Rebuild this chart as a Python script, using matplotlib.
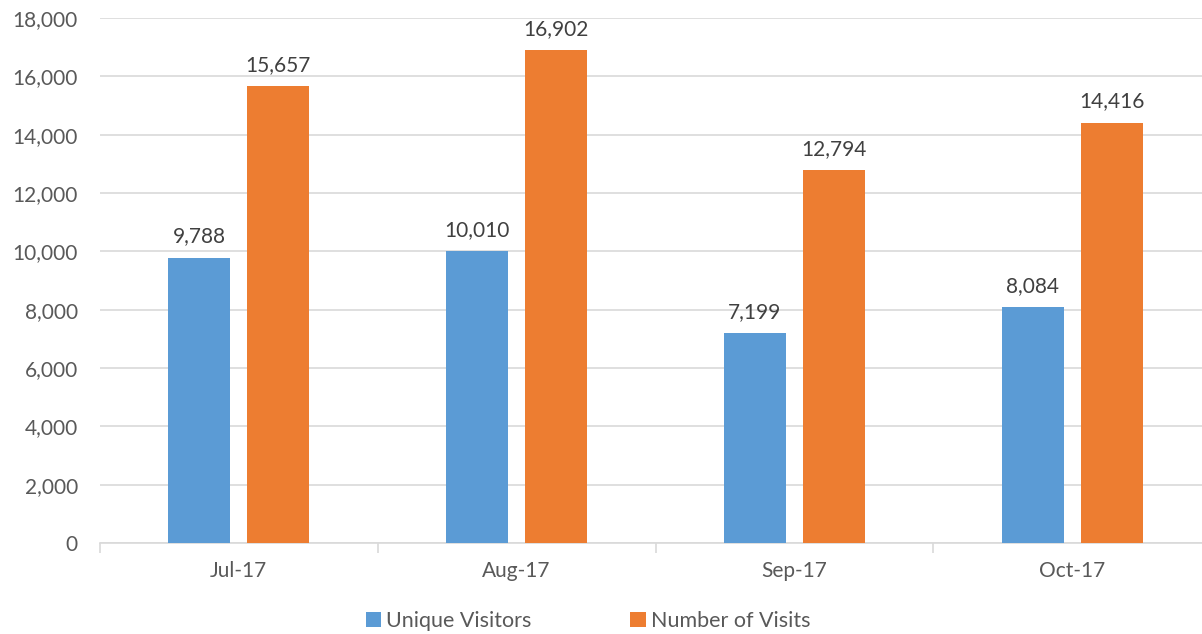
import matplotlib
matplotlib.use("Agg")
import matplotlib.pyplot as plt
import numpy as np
from matplotlib.ticker import FuncFormatter, FixedLocator

categories = ["Jul-17", "Aug-17", "Sep-17", "Oct-17"]
unique_visitors = [9788, 10010, 7199, 8084]
number_of_visits = [15657, 16902, 12794, 14416]
series_names = ["Unique Visitors", "Number of Visits"]

plt.rcParams['font.family'] = ['Lato', 'DejaVu Sans']

W, H = 1202, 634
fig = plt.figure(figsize=(W / 100, H / 100), dpi=100)
ax = fig.add_axes([100 / W, (H - 543) / H, (1211 - 100) / W, (543 - 18) / H])

x = np.arange(len(categories))
bw = 0.223
off = 0.142
b1 = ax.bar(x - off, unique_visitors, bw, color="#5B9BD5", label=series_names[0], zorder=3)
b2 = ax.bar(x + off, number_of_visits, bw, color="#ED7D31", label=series_names[1], zorder=3)

for bars, vals in ((b1, unique_visitors), (b2, number_of_visits)):
    for r, v in zip(bars, vals):
        ax.annotate(f"{v:,}", (r.get_x() + r.get_width() / 2, v), xytext=(0, 8),
                    textcoords="offset points", ha="center", va="bottom",
                    fontsize=15, color="#404040")

ax.set_xlim(-0.5, len(categories) - 0.5)
ax.set_ylim(0, 18000)
ax.set_yticks(np.arange(0, 18001, 2000))
ax.yaxis.set_major_formatter(FuncFormatter(lambda v, p: f"{int(v):,}"))
ax.grid(axis="y", color="#D9D9D9", linewidth=1.2, zorder=0)
ax.tick_params(axis="y", length=0, pad=16, labelsize=15, labelcolor="#595959")

ax.xaxis.set_major_locator(FixedLocator(np.arange(-0.5, len(categories), 1.0)))
ax.xaxis.set_major_formatter(FuncFormatter(lambda v, p: ""))
ax.xaxis.set_minor_locator(FixedLocator(x))
ax.set_xticklabels(categories, minor=True)
ax.tick_params(axis="x", which="major", length=7, width=1.2, color="#D9D9D9")
ax.tick_params(axis="x", which="minor", length=0, pad=13, labelsize=15, labelcolor="#595959")

for s in ("top", "right", "left"):
    ax.spines[s].set_visible(False)
ax.spines["bottom"].set_color("#D9D9D9")
ax.spines["bottom"].set_linewidth(1.2)

leg = fig.legend(handles=[b1, b2], labels=series_names, loc="center",
                 bbox_to_anchor=(588 / W, (H - 621) / H), ncol=2, frameon=False,
                 fontsize=15.5, handlelength=0.7, handleheight=0.7, handletextpad=0.25,
                 columnspacing=4.6, labelcolor="#595959")

fig.savefig("out.png", dpi=100)
